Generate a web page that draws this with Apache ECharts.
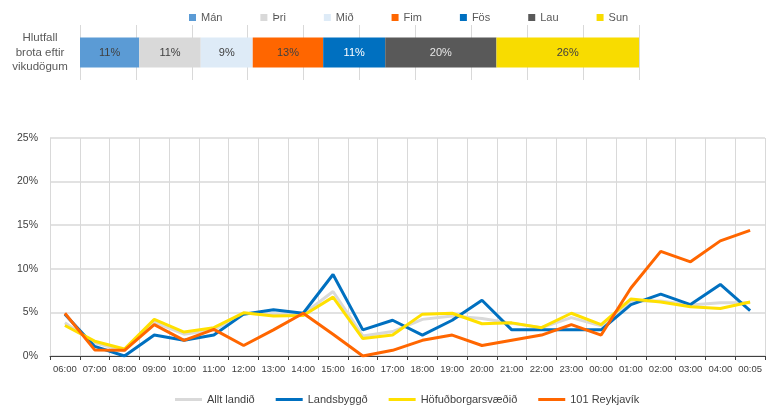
<!DOCTYPE html>
<html>
<head>
<meta charset="utf-8">
<script src="https://cdn.jsdelivr.net/npm/echarts@6/dist/echarts.min.js"></script>
<style>html,body{margin:0;padding:0;background:#fff;}#c{width:773px;height:407px;}</style>
</head>
<body>
<div id="c"></div>
<script>
const weekdays = ['Mán','Þri','Mið','Fim','Fös','Lau','Sun'];
const weekdayShares = [10.6, 11.0, 9.3, 12.6, 11.1, 19.9, 25.5];
const weekdayColors = ['#5B9BD5','#D9D9D9','#DEEBF7','#FF6600','#0070C0','#595959','#F8DC00'];
const weekdayLabelColors = ['#404040','#404040','#404040','#404040','#FFFFFF','#E6E6E6','#404040'];
const barCategory = ['Hlutfall\nbrota eftir\nvikudögum'];

const hours = ['06:00','07:00','08:00','09:00','10:00','11:00','12:00','13:00','14:00','15:00','16:00','17:00','18:00','19:00','20:00','21:00','22:00','23:00','00:00','01:00','02:00','03:00','04:00','00:05'];
const alltLandid = [3.8,1.5,0.6,3.9,2.5,3.0,4.9,4.8,4.8,7.4,2.3,2.8,4.2,4.6,4.3,3.75,3.25,4.4,3.45,6.3,6.3,5.85,6.1,6.1];
const landsbyggd = [4.8,1.1,0.0,2.4,1.8,2.4,4.8,5.3,4.9,9.35,3.0,4.1,2.4,4.1,6.4,3.0,3.0,3.0,3.0,5.9,7.1,5.9,8.2,5.2];
const hofudborg = [3.5,1.7,0.8,4.2,2.75,3.25,4.95,4.6,4.65,6.75,2.0,2.4,4.8,4.9,3.7,3.8,3.25,4.9,3.6,6.55,6.2,5.65,5.45,6.2];
const reykjavik101 = [4.9,0.7,0.65,3.6,1.8,3.05,1.2,3.0,4.9,2.5,0.0,0.65,1.8,2.4,1.2,1.8,2.4,3.6,2.4,7.8,12.0,10.8,13.2,14.4];
const yTicks = [0,5,10,15,20,25];

const lineNames = ['Allt landið','Landsbyggð','Höfuðborgarsvæðið','101 Reykjavík'];
const lineData = [alltLandid, landsbyggd, hofudborg, reykjavik101];
const lineColors = ['#D9D9D9','#0070C0','#FFE000','#FF6600'];

const chart = echarts.init(document.getElementById('c'), null, {renderer:'canvas'});
const font = 'Liberation Sans, Arial, sans-serif';

const series = [];
weekdays.forEach((d,i)=>{
  series.push({
    name:d, type:'bar', stack:'total', xAxisIndex:0, yAxisIndex:0,
    data:[weekdayShares[i]], barWidth:30,
    itemStyle:{color:weekdayColors[i]},
    label:{show:true, position:'inside', fontFamily:font, fontSize:11, color:weekdayLabelColors[i],
      formatter:p=>Math.round(p.value)+'%'},
    emphasis:{disabled:true}, animation:false
  });
});
lineNames.forEach((n,i)=>{
  series.push({
    name:n, type:'line', xAxisIndex:1, yAxisIndex:1, data:lineData[i],
    symbol:'none', lineStyle:{color:lineColors[i], width:3}, itemStyle:{color:lineColors[i]},
    animation:false
  });
});

chart.setOption({
  animation:false,
  textStyle:{fontFamily:font},
  legend:[
    {data:weekdays, left:184, top:7, itemWidth:7, itemHeight:7, itemGap:38, icon:'rect',
     textStyle:{fontFamily:font, fontSize:11, color:'#595959'}, selectedMode:false},
    {data:lineNames, left:170, top:389, itemWidth:27, itemHeight:3, itemGap:21, icon:'rect',
     textStyle:{fontFamily:font, fontSize:11, color:'#404040'}, selectedMode:false}
  ],
  grid:[
    {left:80, right:134, top:25, height:55},
    {left:50, right:8, top:138, bottom:51}
  ],
  xAxis:[
    {type:'value', gridIndex:0, min:0, max:100, interval:10,
     axisLabel:{show:false}, axisLine:{show:false}, axisTick:{show:false},
     splitLine:{show:true, lineStyle:{color:'#D9D9D9', width:1}}},
    {type:'category', gridIndex:1, data:hours, boundaryGap:true,
     axisLine:{show:true, lineStyle:{color:'#404040', width:1}},
     axisTick:{show:true, length:4, alignWithLabel:false, lineStyle:{color:'#404040'}},
     axisLabel:{fontFamily:font, fontSize:9.5, color:'#404040', margin:8, interval:0},
     splitLine:{show:true, interval:0, lineStyle:{color:'#D9D9D9', width:1}}}
  ],
  yAxis:[
    {type:'category', gridIndex:0, data:barCategory,
     axisLine:{show:false}, axisTick:{show:false},
     axisLabel:{fontFamily:font, fontSize:11.5, color:'#595959', align:'center', margin:40, lineHeight:14.5}},
    {type:'value', gridIndex:1, min:yTicks[0], max:yTicks[yTicks.length-1], interval:5,
     axisLine:{show:false}, axisTick:{show:false},
     axisLabel:{fontFamily:font, fontSize:10.5, color:'#404040', formatter:'{value}%', margin:12},
     splitLine:{show:true, lineStyle:{color:'#D9D9D9', width:1.5}}}
  ],
  series:series
});
</script>
</body>
</html>
